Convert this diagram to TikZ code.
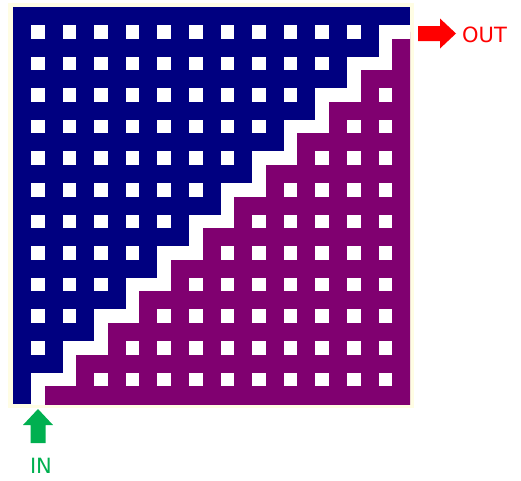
\documentclass[tikz,border=0pt]{standalone}
\usepackage{fontspec}
\newfontfamily\segfont{DejaVu Sans}
\definecolor{mazeblue}{RGB}{0,0,128}
\definecolor{mazepurple}{RGB}{128,0,112}
\definecolor{cream}{RGB}{255,253,228}
\definecolor{arrowred}{RGB}{255,0,0}
\definecolor{arrowgreen}{RGB}{0,176,80}

\begin{document}
\begin{tikzpicture}[
    x=1pt, y=-1pt,
    hole/.style={fill=white},
    label/.style={font=\segfont\fontsize{21}{21}\selectfont, inner sep=0pt}
]
\useasboundingbox (0,0) rectangle (521,480);

% Cream frame behind the maze
\fill[cream] (8,3) rectangle (414,408);

\begin{scope}[shift={(13pt,-7pt)}, x=31.6pt, y=-31.6pt]
\def\bw{0.57}
\def\hw{0.43}
\def\side{12.57}
\def\mid{0.785}

% Whole square in blue
\fill[mazeblue] (0,0) rectangle (\side,\side);

\begin{scope}
\clip (0,0) rectangle (\side,\side);
% Purple part below the path
\fill[mazepurple] (\mid,\side+1)
    \foreach \r in {11,...,0} { -- ({\mid+11-\r},{\mid+\r}) -- ({\mid+12-\r},{\mid+\r}) }
    -- ({\mid+12},\side+1) -- cycle;
% White path (staircase)
\draw[white, line width=13.6pt] (\mid,\side+1)
    \foreach \r in {11,...,0} { -- ({\mid+11-\r},{\mid+\r}) -- ({\mid+12-\r},{\mid+\r}) };
\end{scope}

% Holes in the blue part
\foreach \r in {0,...,10} {
    \pgfmathtruncatemacro{\last}{10-\r}
    \foreach \c in {0,...,\last}
        \fill[hole] (\bw+\c,\bw+\r) rectangle ++(\hw,\hw);
}

% Holes in the purple part
\foreach \r in {2,...,11} {
    \pgfmathtruncatemacro{\first}{13-\r}
    \foreach \c in {\first,...,11}
        \fill[hole] (\bw+\c,\bw+\r) rectangle ++(\hw,\hw);
}
\end{scope}

% Exit arrow
\coordinate (out) at (418,33.5);
\fill[arrowred] (out) ++(0,-7.5) -- ++(22,0) -- ++(0,-7.5) -- ++(16,15)
    -- ++(-16,15) -- ++(0,-7.5) -- ++(-22,0) -- cycle;
\node[label, text=arrowred, anchor=west] (outlabel) at (462,34.5) {OUT};

% Entry arrow
\coordinate (in) at (38,409);
\fill[arrowgreen] (in) -- ++(15,16) -- ++(-7.5,0) -- ++(0,18) -- ++(-15,0)
    -- ++(0,-18) -- ++(-7.5,0) -- cycle;
\node[label, text=arrowgreen] (inlabel) at (41,465.5) {IN};

\end{tikzpicture}
\end{document}
